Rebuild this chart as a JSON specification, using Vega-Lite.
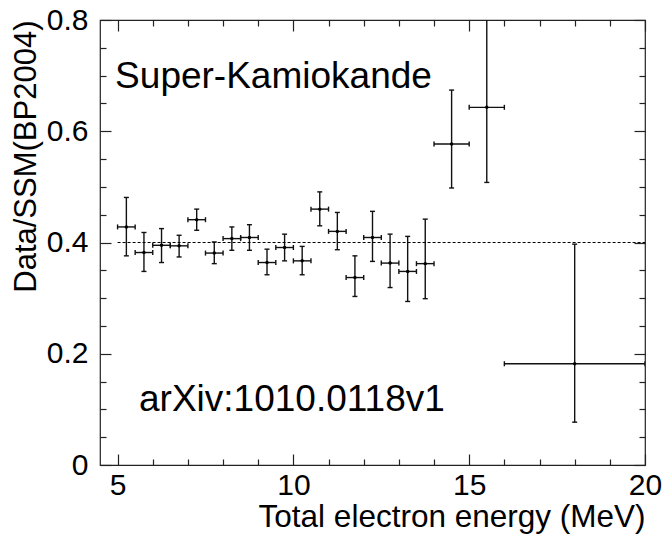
{
  "$schema": "https://vega.github.io/schema/vega-lite/v6.json",
  "width": 545,
  "height": 445,
  "autosize": "none",
  "padding": {"left": 100, "top": 20, "right": 18, "bottom": 69},
  "background": "white",
  "config": {
    "view": {"stroke": "#222", "strokeWidth": 1.2},
    "axis": {"grid": false, "domain": false, "labelFont": "Liberation Sans", "titleFont": "Liberation Sans", "labelColor": "black", "titleColor": "black", "labelFontSize": 30, "labelFlush": false, "labelOverlap": false, "tickColor": "#222", "tickWidth": 1.2, "titleFontWeight": "normal"},
    "text": {"font": "Liberation Sans"}
  },
  "datasets": {
    "pts": [
      {"E": 5.25, "xlo": 5.0, "xhi": 5.5, "R": 0.428, "lo": 0.376, "hi": 0.481},
      {"E": 5.75, "xlo": 5.5, "xhi": 6.0, "R": 0.382, "lo": 0.348, "hi": 0.418},
      {"E": 6.25, "xlo": 6.0, "xhi": 6.5, "R": 0.395, "lo": 0.364, "hi": 0.425},
      {"E": 6.75, "xlo": 6.5, "xhi": 7.0, "R": 0.394, "lo": 0.374, "hi": 0.413},
      {"E": 7.25, "xlo": 7.0, "xhi": 7.5, "R": 0.441, "lo": 0.422, "hi": 0.460},
      {"E": 7.75, "xlo": 7.5, "xhi": 8.0, "R": 0.381, "lo": 0.362, "hi": 0.401},
      {"E": 8.25, "xlo": 8.0, "xhi": 8.5, "R": 0.407, "lo": 0.386, "hi": 0.428},
      {"E": 8.75, "xlo": 8.5, "xhi": 9.0, "R": 0.409, "lo": 0.386, "hi": 0.432},
      {"E": 9.25, "xlo": 9.0, "xhi": 9.5, "R": 0.364, "lo": 0.342, "hi": 0.388},
      {"E": 9.75, "xlo": 9.5, "xhi": 10.0, "R": 0.391, "lo": 0.367, "hi": 0.415},
      {"E": 10.25, "xlo": 10.0, "xhi": 10.5, "R": 0.367, "lo": 0.342, "hi": 0.393},
      {"E": 10.75, "xlo": 10.5, "xhi": 11.0, "R": 0.460, "lo": 0.430, "hi": 0.491},
      {"E": 11.25, "xlo": 11.0, "xhi": 11.5, "R": 0.420, "lo": 0.387, "hi": 0.454},
      {"E": 11.75, "xlo": 11.5, "xhi": 12.0, "R": 0.337, "lo": 0.303, "hi": 0.376},
      {"E": 12.25, "xlo": 12.0, "xhi": 12.5, "R": 0.409, "lo": 0.366, "hi": 0.456},
      {"E": 12.75, "xlo": 12.5, "xhi": 13.0, "R": 0.363, "lo": 0.319, "hi": 0.415},
      {"E": 13.25, "xlo": 13.0, "xhi": 13.5, "R": 0.348, "lo": 0.294, "hi": 0.411},
      {"E": 13.75, "xlo": 13.5, "xhi": 14.0, "R": 0.362, "lo": 0.299, "hi": 0.442},
      {"E": 14.5, "xlo": 14.0, "xhi": 15.0, "R": 0.577, "lo": 0.498, "hi": 0.674},
      {"E": 15.5, "xlo": 15.0, "xhi": 16.0, "R": 0.643, "lo": 0.508, "hi": 0.86},
      {"E": 18.0, "xlo": 16.0, "xhi": 20.0, "R": 0.182, "lo": 0.077, "hi": 0.397}
    ]
  },
  "resolve": {"axis": {"x": "independent", "y": "independent"}},
  "layer": [
    {
      "data": {"name": "pts"},
      "mark": {"type": "rule", "color": "#111", "strokeWidth": 1.4, "clip": true},
      "encoding": {
        "x": {"field": "E", "type": "quantitative", "scale": {"domain": [4.5, 20], "nice": false, "zero": false},
          "axis": {"orient": "bottom", "values": [5, 10, 15, 20], "ticks": false, "labelPadding": 5, "title": "Total electron energy (MeV)", "titleFontSize": 31.5, "titleAlign": "right", "titleAnchor": "end", "titleX": 545, "titleY": 61, "titleBaseline": "alphabetic"}},
        "y": {"field": "lo", "type": "quantitative", "scale": {"domain": [0, 0.8], "nice": false, "zero": false},
          "axis": {"orient": "left", "values": [0, 0.2, 0.4, 0.6, 0.8], "format": ".1~f", "ticks": false, "labelPadding": 12, "title": "Data/SSM(BP2004)", "titleFontSize": 31, "titleAngle": -90, "titleAlign": "right", "titleAnchor": "end", "titleX": -65, "titleY": 0, "titleBaseline": "alphabetic"}},
        "y2": {"field": "hi"}
      }
    },
    {
      "data": {"name": "pts"},
      "mark": {"type": "rule", "color": "#111", "strokeWidth": 1.4, "clip": true},
      "encoding": {
        "x": {"field": "xlo", "type": "quantitative", "scale": {"domain": [4.5, 20], "nice": false, "zero": false},
          "axis": {"orient": "bottom", "values": [5, 10, 15, 20], "labels": false, "tickSize": -11, "title": null}},
        "x2": {"field": "xhi"},
        "y": {"field": "R", "type": "quantitative", "scale": {"domain": [0, 0.8], "nice": false, "zero": false},
          "axis": {"orient": "left", "values": [0, 0.2, 0.4, 0.6, 0.8], "labels": false, "tickSize": -11, "title": null}}
      }
    },
    {
      "data": {"name": "pts"},
      "mark": {"type": "point", "shape": "circle", "filled": true, "color": "black", "size": 12, "opacity": 1},
      "encoding": {
        "x": {"field": "E", "type": "quantitative",
          "axis": {"orient": "bottom", "values": [6, 7, 8, 9, 11, 12, 13, 14, 16, 17, 18, 19], "labels": false, "tickSize": -6, "title": null}},
        "y": {"field": "R", "type": "quantitative",
          "axis": {"orient": "left", "values": [0.05, 0.1, 0.15, 0.25, 0.3, 0.35, 0.45, 0.5, 0.55, 0.65, 0.7, 0.75], "labels": false, "tickSize": -6, "title": null}}
      }
    },
    {
      "data": {"name": "pts"},
      "transform": [{"fold": ["lo", "hi"], "as": ["end", "val"]}],
      "mark": {"type": "point", "shape": "stroke", "filled": false, "color": "#111", "strokeWidth": 1.4, "size": 25, "opacity": 1, "clip": true},
      "encoding": {
        "x": {"field": "E", "type": "quantitative",
          "axis": {"orient": "top", "values": [5, 10, 15, 20], "labels": false, "tickSize": -11, "title": null}},
        "y": {"field": "val", "type": "quantitative",
          "axis": {"orient": "right", "values": [0, 0.2, 0.4, 0.6, 0.8], "labels": false, "tickSize": -11, "title": null}}
      }
    },
    {
      "data": {"name": "pts"},
      "transform": [{"fold": ["xlo", "xhi"], "as": ["end", "val"]}],
      "mark": {"type": "point", "shape": "stroke", "angle": 90, "filled": false, "color": "#111", "strokeWidth": 1.4, "size": 25, "opacity": 1, "clip": true},
      "encoding": {
        "x": {"field": "val", "type": "quantitative",
          "axis": {"orient": "top", "values": [6, 7, 8, 9, 11, 12, 13, 14, 16, 17, 18, 19], "labels": false, "tickSize": -6, "title": null}},
        "y": {"field": "R", "type": "quantitative",
          "axis": {"orient": "right", "values": [0.05, 0.1, 0.15, 0.25, 0.3, 0.35, 0.45, 0.5, 0.55, 0.65, 0.7, 0.75], "labels": false, "tickSize": -6, "title": null}}
      }
    },
    {
      "data": {"values": [{"a": 5, "b": 20, "y": 0.4}]},
      "mark": {"type": "rule", "color": "black", "strokeWidth": 1, "strokeDash": [3, 2]},
      "encoding": {
        "x": {"field": "a", "type": "quantitative", "axis": null},
        "x2": {"field": "b"},
        "y": {"field": "y", "type": "quantitative", "axis": null}
      }
    },
    {
      "data": {"values": [
        {"t": "Super-Kamiokande", "x": 4.93, "y": 0.678},
        {"t": "arXiv:1010.0118v1", "x": 5.61, "y": 0.097}
      ]},
      "mark": {"type": "text", "align": "left", "baseline": "alphabetic", "fontSize": 37, "color": "black", "font": "Liberation Sans"},
      "encoding": {
        "x": {"field": "x", "type": "quantitative", "axis": null},
        "y": {"field": "y", "type": "quantitative", "axis": null},
        "text": {"field": "t", "type": "nominal"}
      }
    }
  ]
}
